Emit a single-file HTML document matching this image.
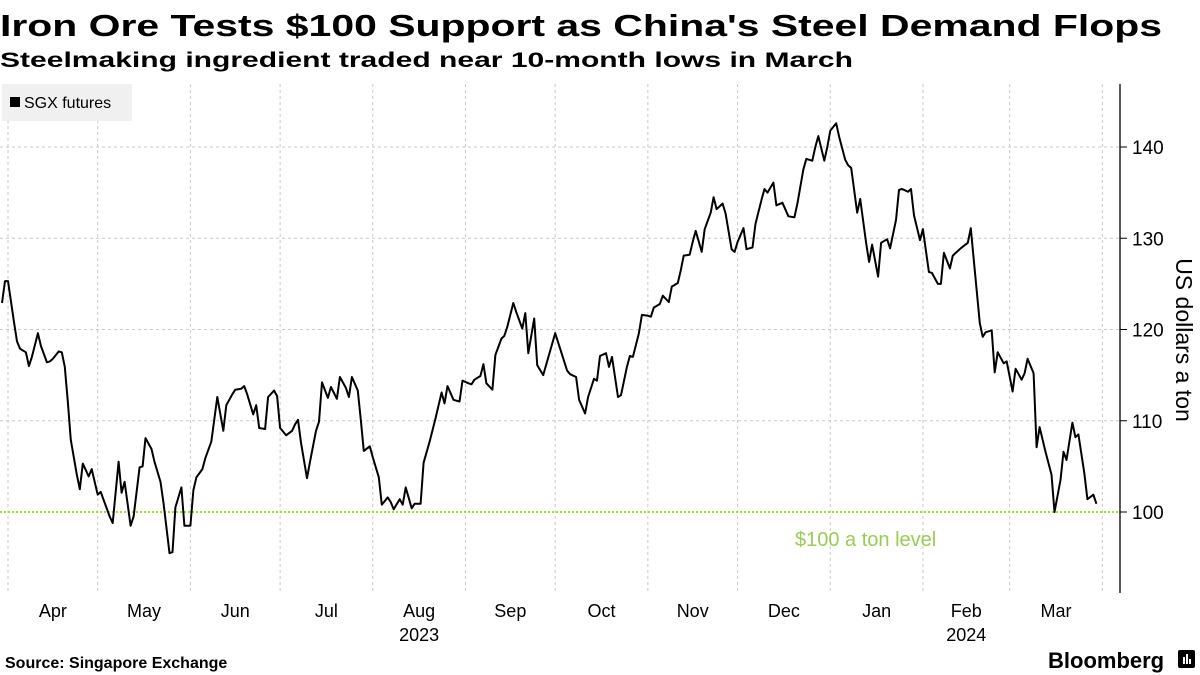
<!DOCTYPE html>
<html><head><meta charset="utf-8">
<style>
body{margin:0;background:#fff;width:1200px;height:675px;overflow:hidden;font-family:"Liberation Sans",sans-serif;}
#c{position:absolute;left:0;top:0;}
</style></head>
<body>
<svg id="c" width="1200" height="675" xmlns="http://www.w3.org/2000/svg">
<text x="0" y="36" font-size="31" font-weight="bold" fill="#000" textLength="1162" lengthAdjust="spacingAndGlyphs">Iron Ore Tests $100 Support as China's Steel Demand Flops</text>
<text x="0" y="67" font-size="21" font-weight="bold" fill="#000" textLength="853" lengthAdjust="spacingAndGlyphs">Steelmaking ingredient traded near 10-month lows in March</text>
<g id="grid"></g>
<rect x="2" y="84" width="130" height="37" fill="#f0f0f0"/>
<rect x="10" y="97" width="10" height="10" fill="#000"/>
<text x="24" y="108" font-size="16" fill="#000">SGX futures</text>
<g id="axes"></g>
<path id="line" fill="none" stroke="#000" stroke-width="2" stroke-linejoin="round"/>
<text x="795" y="546" font-size="20" fill="#99cc55">$100 a ton level</text>
<text transform="translate(1176,340) rotate(90)" text-anchor="middle" font-size="23" fill="#000">US dollars a ton</text>
<text x="5" y="668" font-size="16" font-weight="bold" fill="#000">Source: Singapore Exchange</text>
<text x="1048" y="668" font-size="22" font-weight="bold" fill="#000">Bloomberg</text>
<g><rect x="1178" y="650" width="17" height="18" rx="2" fill="#000"/><rect x="1183" y="657" width="2" height="7" fill="#fff"/><rect x="1186" y="654" width="2" height="10" fill="#fff"/><rect x="1189" y="659" width="2" height="5" fill="#fff"/></g>
</svg>
<script>
const days=[-2,-1,0,2,3,4,6,7,8,10,11,13,14,15,17,18,19,20,21,23,24,25,27,28,30,31,32,34,35,37,38,39,41,42,44,45,46,48,49,51,52,54,55,56,58,59,61,62,63,65,66,68,70,72,73,75,76,78,79,80,82,83,84,86,87,89,90,91,93,95,96,97,98,100,101,103,104,105,107,108,110,111,113,114,115,117,118,119,121,122,124,125,127,128,129,131,132,133,135,136,138,139,141,143,145,146,147,149,151,152,154,155,156,158,159,160,162,163,165,166,167,169,170,172,173,174,176,177,179,183,187,188,190,191,193,194,196,197,198,200,201,202,204,205,207,208,209,211,212,214,215,216,218,219,221,222,224,225,226,228,229,230,232,233,235,236,237,239,240,242,243,244,246,247,249,250,252,253,254,256,257,259,261,263,264,266,267,269,270,271,273,274,275,277,278,280,281,282,284,285,287,288,289,291,292,294,295,297,298,299,301,302,303,305,306,308,309,311,312,313,315,316,317,319,321,322,323,325,326,327,329,330,331,333,334,336,337,339,340,341,343,344,345,347,349,350,352,353,354,356,357,358,360,361,363,364];
const prices=[122.9,125.3,125.3,120.8,118.7,117.9,117.5,116.0,117.0,119.6,118.2,116.4,116.5,116.8,117.6,117.5,115.9,112.1,107.9,104.1,102.5,105.3,103.9,104.7,101.9,102.2,101.3,99.5,98.8,105.5,102.1,103.3,98.5,99.5,104.9,105.0,108.1,106.9,105.5,103.3,101.0,95.5,95.6,100.5,102.7,98.5,98.5,102.4,103.8,104.7,105.9,107.7,112.6,108.9,111.7,112.9,113.4,113.5,113.8,112.9,110.7,111.7,109.2,109.1,112.6,113.3,112.7,109.2,108.4,108.9,109.6,110.1,107.6,103.7,105.5,108.9,109.9,114.2,112.5,113.7,112.4,114.8,113.6,112.6,114.8,113.3,110.1,106.7,107.2,106.0,103.8,100.8,101.6,101.1,100.3,101.4,100.8,102.7,100.4,100.9,100.9,105.4,107.7,110.3,113.1,111.9,113.8,112.3,112.1,114.4,114.1,114.0,114.5,114.9,116.2,114.1,113.4,117.2,119.0,119.3,120.3,122.9,121.9,120.1,121.8,117.4,121.2,116.1,115.0,119.6,115.5,115.1,114.8,112.3,110.8,112.6,114.6,114.4,117.1,117.4,115.9,117.0,112.6,112.8,115.9,117.1,117.0,119.6,121.6,121.5,121.4,122.4,122.8,123.7,123.0,124.7,125.1,126.5,128.1,128.2,129.6,130.8,128.5,131.0,132.8,134.5,133.2,133.8,132.7,128.8,128.5,129.6,131.1,128.8,129.0,131.6,134.2,135.4,135.0,136.1,133.6,133.9,132.4,132.3,133.8,137.5,138.7,138.5,140.0,141.2,138.5,140.0,141.8,142.6,141.1,138.6,138.0,137.7,132.8,134.3,129.5,127.4,129.3,125.8,129.5,129.9,128.9,132.0,135.3,135.4,135.1,135.4,132.5,129.8,131.0,126.3,126.2,125.0,125.0,128.4,126.7,128.1,128.4,129.0,129.5,131.1,127.6,120.7,119.2,119.7,119.9,115.3,117.5,116.3,116.5,113.2,115.7,114.5,115.2,116.8,115.2,107.1,109.3,106.6,104.1,100.0,103.5,106.6,105.7,109.8,108.2,108.5,104.2,101.4,101.9,100.9];
const monthStarts=[0,30,61,91,122,153,183,214,244,275,306,335,366];
const monthLabels=["Apr","May","Jun","Jul","Aug","Sep","Oct","Nov","Dec","Jan","Feb","Mar"];
const yearLabels=["2023","2024"];
const yearMonthIdx=[4,10];
const yTicks=[100,110,120,130,140];
const supportLevel=100;

const NS="http://www.w3.org/2000/svg";
const X0=8,PXD=2.99,Y100=512,PXV=9.125,TOP=84,BOT=593,AX=1120;
const xs=d=>X0+d*PXD;
const ys=v=>Y100-(v-100)*PXV;
function mk(tag,attrs,parent){const e=document.createElementNS(NS,tag);for(const k in attrs)e.setAttribute(k,attrs[k]);parent.appendChild(e);return e;}
const grid=document.getElementById('grid'),axes=document.getElementById('axes');
monthStarts.forEach((d,i)=>{
  const l=mk('line',{x1:xs(d),x2:xs(d),y1:TOP,y2:BOT,stroke:'#c8c8c8','stroke-dasharray':'3,3','stroke-width':1},grid);
  
  
});
yTicks.forEach(v=>{
  if(v!==supportLevel){
    const l=mk('line',{x1:0,x2:AX,y1:ys(v),y2:ys(v),stroke:'#c8c8c8','stroke-dasharray':'3,3','stroke-width':1},grid);
    
    
  }
  const t=mk('line',{x1:AX,x2:AX+7,y1:ys(v),y2:ys(v),stroke:'#000','stroke-width':1},axes);
  
  
  const tx=mk('text',{x:AX+12,y:ys(v)+7,'font-size':19,fill:'#000'},axes);
  tx.textContent=v;
  
  
});
const sl=mk('line',{x1:0,x2:AX,y1:ys(supportLevel),y2:ys(supportLevel),stroke:'#99dd44','stroke-dasharray':'2,2','stroke-width':2},grid);


const ax=mk('line',{x1:AX,x2:AX,y1:TOP,y2:BOT,stroke:'#000','stroke-width':1.3},axes);


monthLabels.forEach((m,i)=>{
  const cx=(xs(monthStarts[i])+xs(monthStarts[i+1]))/2;
  const t=mk('text',{x:cx,y:617,'font-size':18,'text-anchor':'middle',fill:'#000'},axes);
  t.textContent=m;
  
  
});
yearLabels.forEach((y,i)=>{
  const k=yearMonthIdx[i];
  const cx=(xs(monthStarts[k])+xs(monthStarts[k+1]))/2;
  const t=mk('text',{x:cx,y:641,'font-size':18,'text-anchor':'middle',fill:'#000'},axes);
  t.textContent=y;
  
  
});
document.getElementById('line').setAttribute('d',days.map((d,i)=>(i?'L':'M')+xs(d).toFixed(1)+','+ys(prices[i]).toFixed(1)).join(''));
</script>
</body></html>
